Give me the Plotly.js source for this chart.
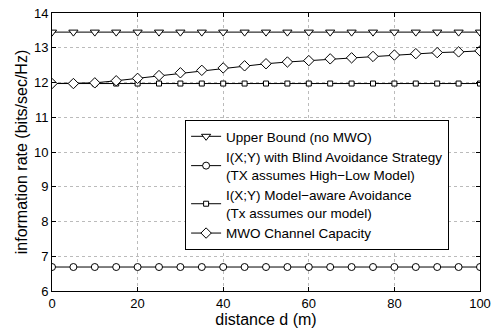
<!DOCTYPE html>
<html><head><meta charset="utf-8">
<script src="https://cdn.plot.ly/plotly-3.0.1.min.js"></script>
<style>html,body{margin:0;padding:0;background:#fff}</style>
</head><body><div id="plot" style="width:498px;height:329px"></div>
<script>
const distance = [0,5,10,15,20,25,30,35,40,45,50,55,60,65,70,75,80,85,90,95,100];
const upperBound = [13.45,13.45,13.45,13.45,13.45,13.45,13.45,13.45,13.45,13.45,13.45,13.45,13.45,13.45,13.45,13.45,13.45,13.45,13.45,13.45,13.45];
const blindAvoid = [6.69,6.69,6.69,6.69,6.69,6.69,6.69,6.69,6.69,6.69,6.69,6.69,6.69,6.69,6.69,6.69,6.69,6.69,6.69,6.69,6.69];
const modelAware = [11.97,11.97,11.97,11.97,11.97,11.97,11.97,11.97,11.97,11.97,11.97,11.97,11.97,11.97,11.97,11.97,11.97,11.97,11.97,11.97,11.97];
const mwoCapacity = [11.97,11.97,11.99,12.05,12.12,12.2,12.28,12.35,12.42,12.48,12.54,12.59,12.63,12.68,12.71,12.75,12.79,12.83,12.86,12.88,12.91];
const names = ['Upper Bound (no MWO)',
  'I(X;Y) with Blind Avoidance Strategy<br>(TX assumes High\u2212Low Model)',
  'I(X;Y) Model\u2212aware Avoidance<br>(Tx assumes our model)',
  'MWO Channel Capacity'];
const xTicks = [0,20,40,60,80,100];
const yTicks = [6,7,8,9,10,11,12,13,14];

function tr(y, name, sym, size){
  return {x: distance, y: y, name: name, type:'scatter', mode:'lines+markers',
    line:{color:'#000', width:1},
    marker:{symbol:sym, size:size, color:'#fff', line:{color:'#000', width:1}}};
}
const data = [
  tr(upperBound, names[0], 'triangle-down', 8),
  tr(blindAvoid, names[1], 'circle', 7),
  tr(modelAware, names[2], 'square', 5),
  tr(mwoCapacity, names[3], 'diamond', 8)
];
const axisCommon = {showline:true, mirror:'ticks', linecolor:'#000', linewidth:1,
  ticks:'inside', ticklen:4, tickcolor:'#000', showgrid:true, gridcolor:'#bbb', griddash:'dot', gridwidth:1,
  zeroline:false, tickfont:{family:'Liberation Sans, Arial, sans-serif', size:13, color:'#000'}};
const layout = {
  width:498, height:329,
  margin:{l:52, r:18, t:13, b:38},
  paper_bgcolor:'#fff', plot_bgcolor:'#fff',
  font:{family:'Liberation Sans, Arial, sans-serif', color:'#000'},
  xaxis:Object.assign({}, axisCommon, {range:[0,100], tickvals:xTicks, ticklabelstandoff:0,
    title:{text:'distance d (m)', font:{size:16}, standoff:0}}),
  yaxis:Object.assign({}, axisCommon, {range:[6,14], tickvals:yTicks, ticklabelstandoff:0,
    title:{text:'information rate (bits/sec/Hz)', font:{size:16}, standoff:2}}),
  legend:{x:0.311, y:0.615, xanchor:'left', yanchor:'top', bgcolor:'#fff', bordercolor:'#000', borderwidth:1,
    font:{size:13.5, color:'#000'}, tracegroupgap:0, itemwidth:30},
  showlegend:true
};
Plotly.newPlot('plot', data, layout, {displayModeBar:false, staticPlot:true});
</script></body></html>
